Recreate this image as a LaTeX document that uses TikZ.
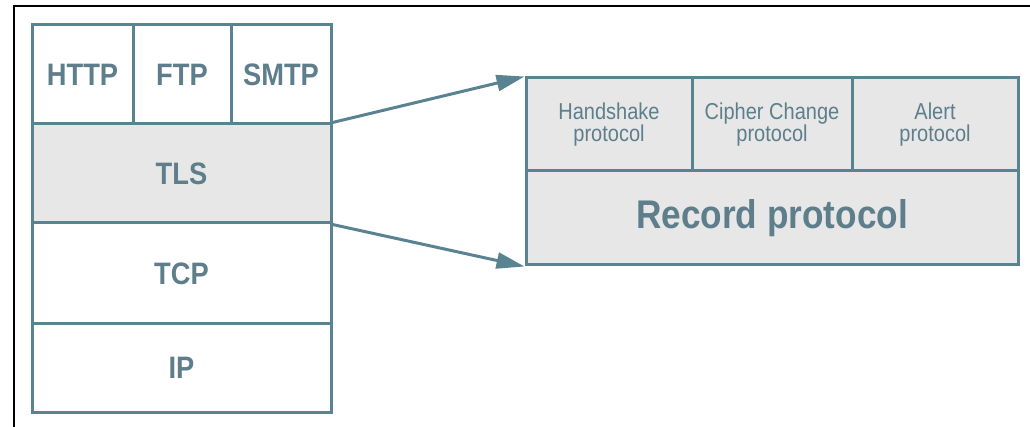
\documentclass[tikz,border=0pt]{standalone}
\usepackage{fontspec}
\newfontfamily\cf[FakeStretch=0.88]{Liberation Sans}
\newfontfamily\cfs[FakeStretch=0.87]{Liberation Sans}
\usetikzlibrary{arrows.meta}
\definecolor{edge}{HTML}{5A8391}
\definecolor{txt}{HTML}{5E7E8B}
\definecolor{shade}{HTML}{E7E7E7}
\tikzset{
  cell/.style={draw=edge, line width=3pt, fill=white, inner sep=0pt, text=txt},
  graycell/.style={cell, fill=shade},
  big/.style={font=\cf\bfseries\fontsize{31}{31}\selectfont},
  small/.style={font=\cfs\fontsize{23}{22}\selectfont, align=center},
  huge/.style={font=\cf\bfseries\fontsize{40}{40}\selectfont},
  link/.style={draw=edge, line width=3pt, -{Triangle[length=28pt,width=16pt]}},
  frame/.style={draw=black, line width=2pt}
}
\begin{document}
\begin{tikzpicture}[x=1pt,y=-1pt]
\useasboundingbox (0,0) rectangle (1030,427);
\fill[white] (0,0) rectangle (1030,427);
% outer frame (top and left edges)
\coordinate (fl) at (14,427);
\coordinate (ft) at (14,6);
\coordinate (fr) at (1030,6);
\draw[frame] (fl) -- (ft) -- (fr);
% left stack
\node[cell, big, minimum width=101pt, minimum height=99pt] (http) at (82.5,74.5) {HTTP};
\node[cell, big, minimum width=98pt, minimum height=99pt] (ftp) at (182,74.5) {FTP};
\node[cell, big, minimum width=100pt, minimum height=99pt] (smtp) at (281,74.5) {SMTP};
\node[graycell, big, minimum width=299pt, minimum height=99pt] (tls) at (181.5,173.5) {TLS};
\node[cell, big, minimum width=299pt, minimum height=101pt] (tcp) at (181.5,273.5) {TCP};
\node[cell, big, minimum width=299pt, minimum height=88pt] (ip) at (181.5,368) {IP};
% right stack
\node[graycell, small, minimum width=166pt, minimum height=93pt] (hs) at (609,124.5) {Handshake\\protocol};
\node[graycell, small, minimum width=160pt, minimum height=93pt] (cc) at (772,124.5) {Cipher Change\\protocol};
\node[graycell, small, minimum width=166pt, minimum height=93pt] (al) at (935,124.5) {Alert\\protocol};
\node[graycell, huge, minimum width=492pt, minimum height=94pt] (rec) at (772,218) {Record protocol};
% connectors
\draw[link] (tls.north east) -- (hs.north west);
\draw[link] (tls.south east) -- (rec.south west);
\end{tikzpicture}
\end{document}
